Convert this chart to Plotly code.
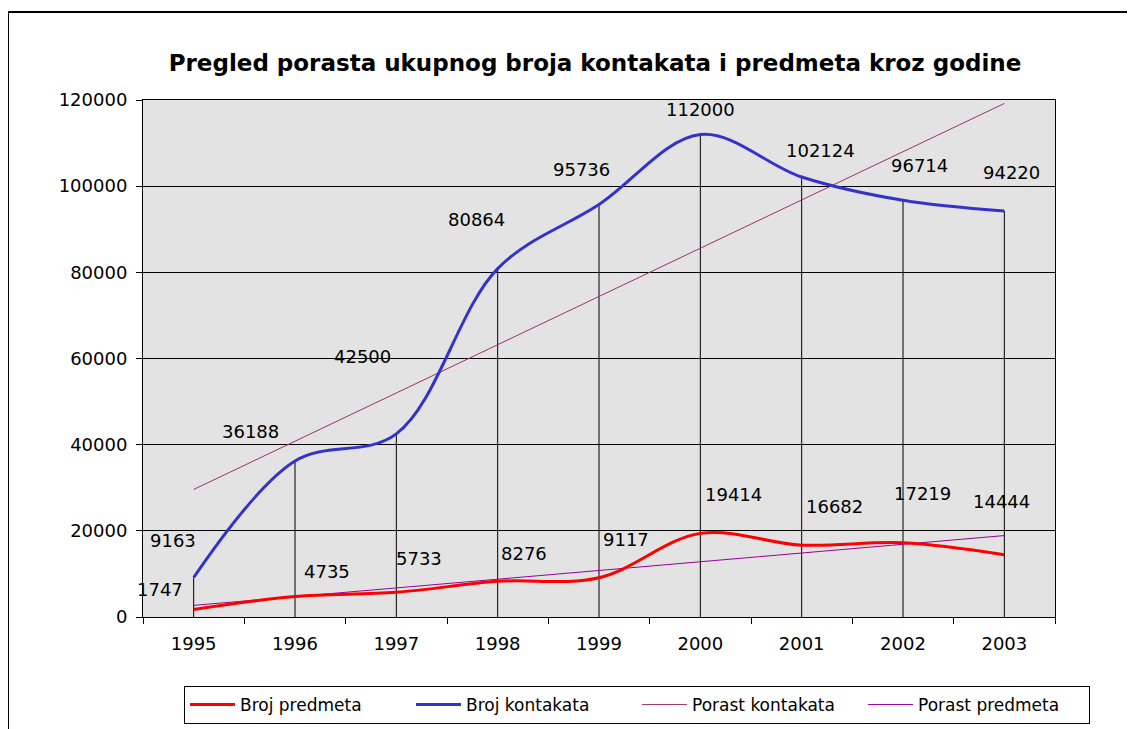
import plotly.graph_objects as go

years = [1995, 1996, 1997, 1998, 1999, 2000, 2001, 2002, 2003]
year_labels = ["1995", "1996", "1997", "1998", "1999", "2000", "2001", "2002", "2003"]
broj_predmeta = [1747, 4735, 5733, 8276, 9117, 19414, 16682, 17219, 14444]
broj_kontakata = [9163, 36188, 42500, 80864, 95736, 112000, 102124, 96714, 94220]
trend_years = [1995, 2003]
porast_kontakata = [29600, 119200]
porast_predmeta = [2700, 18900]

# label pixel offsets (style)
off_k = [(-21, 37), (-45, 30), (-34, 77), (-21, 49), (-18, 35), (0, 25), (19, 27), (16, 35), (7, 39)]
off_p = [(-34, 20), (32, 25), (23, 34), (26, 28), (27, 38), (33, 39), (33, 39), (19, 49), (-3, 53)]

FONT = "DejaVu Sans"
PAGE = 8  # browser body margin
L, R, T, B = 143 - PAGE, 1055 - PAGE, 100 - PAGE, 617 - PAGE
W, H = 1135 - PAGE, 729 - PAGE
PW, PH = R - L, B - T

fig = go.Figure()

# drop lines
dx, dy = [], []
for yr, a, b in zip(years, broj_kontakata, broj_predmeta):
    dx += [yr, yr, None]
    dy += [0, max(a, b), None]
fig.add_trace(go.Scatter(x=dx, y=dy, mode="lines", line=dict(color="black", width=1),
                         showlegend=False, hoverinfo="skip"))

fig.add_trace(go.Scatter(x=trend_years, y=porast_kontakata, mode="lines", name="Porast kontakata",
                         line=dict(color="#993366", width=1), legendrank=3))
fig.add_trace(go.Scatter(x=trend_years, y=porast_predmeta, mode="lines", name="Porast predmeta",
                         line=dict(color="#990099", width=1), legendrank=4))
fig.add_trace(go.Scatter(x=years, y=broj_predmeta, mode="lines", name="Broj predmeta",
                         line=dict(color="#FF0000", width=3, shape="spline", smoothing=1), legendrank=1))
fig.add_trace(go.Scatter(x=years, y=broj_kontakata, mode="lines", name="Broj kontakata",
                         line=dict(color="#3333CC", width=3, shape="spline", smoothing=1), legendrank=2))

ann = []
for yr, v, (ox, oy) in zip(years, broj_kontakata, off_k):
    ann.append(dict(x=yr, y=v, text=str(v), showarrow=False, xshift=ox, yshift=oy,
                    font=dict(family=FONT, size=18, color="black")))
for yr, v, (ox, oy) in zip(years, broj_predmeta, off_p):
    ann.append(dict(x=yr, y=v, text=str(v), showarrow=False, xshift=ox, yshift=oy,
                    font=dict(family=FONT, size=18, color="black")))

fig.update_layout(
    width=W, height=H,
    margin=dict(l=L, r=W - R, t=T, b=H - B, autoexpand=False),
    paper_bgcolor="white", plot_bgcolor="#E3E3E3",
    title=dict(text="<b>Pregled porasta ukupnog broja kontakata i predmeta kroz godine</b>",
               x=(595 - PAGE) / W, xanchor="center", y=1 - (63 - PAGE) / H, yanchor="middle",
               font=dict(family=FONT, size=23, color="black")),
    font=dict(family=FONT, size=18, color="black"),
    annotations=ann,
    showlegend=True,
    legend=dict(orientation="h", xref="container", yref="container",
                x=(637 - PAGE) / W, xanchor="center", y=1 - (686 - PAGE) / H, yanchor="top",
                bordercolor="black", borderwidth=1, bgcolor="white", entrywidth=166, itemwidth=45,
                font=dict(family=FONT, size=17, color="black"), traceorder="normal"),
    shapes=[dict(type="rect", xref="paper", yref="paper",
                 x0=(8 - 143) / PW, x1=(1300 - 143) / PW, y0=(617 - 900) / PH, y1=(617 - 12) / PH,
                 line=dict(color="black", width=2), fillcolor="rgba(0,0,0,0)", layer="below")],
)
fig.update_xaxes(range=[1994.5, 2003.5], tickmode="array", tickvals=years, ticktext=year_labels,
                 ticks="", showgrid=False, automargin=False, ticklabelstandoff=10,
                 minor=dict(tickmode="array", tickvals=[y - 0.5 for y in years] + [2003.5],
                            ticks="outside", ticklen=6, tickcolor="black", showgrid=False),
                 showline=True, linecolor="black", linewidth=1, mirror=True,
                 tickfont=dict(family=FONT, size=18, color="black"), zeroline=False)
fig.update_yaxes(range=[0, 120000], dtick=20000, ticks="outside", ticklen=6, tickcolor="black",
                 showgrid=True, gridcolor="black", gridwidth=1, showline=True, linecolor="black",
                 linewidth=1, mirror=True, zeroline=False, tickformat="d", automargin=False,
                 ticklabelstandoff=5,
                 tickfont=dict(family=FONT, size=18, color="black"))

fig.write_html("out.html")
